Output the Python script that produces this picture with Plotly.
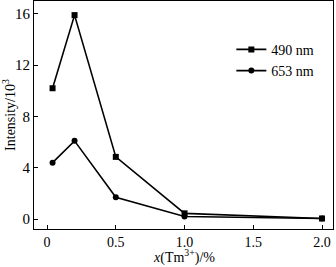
import plotly.graph_objects as go

x_vals = [0.04, 0.2, 0.5, 1.0, 2.0]
y_490 = [10.2, 15.9, 4.85, 0.45, 0.05]
y_653 = [4.4, 6.1, 1.7, 0.2, 0.05]
series_names = ["490 nm", "653 nm"]
x_ticks = [0, 0.5, 1.0, 1.5, 2.0]
x_tick_text = ["0", "0.5", "1.0", "1.5", "2.0"]
y_ticks = [0, 4, 8, 12, 16]

font = "Liberation Serif, Times New Roman, serif"
fig = go.Figure()
fig.add_trace(go.Scatter(x=x_vals, y=y_490, mode="lines+markers", name=series_names[0],
                         line=dict(color="black", width=1.6),
                         marker=dict(symbol="square", size=6, color="black")))
fig.add_trace(go.Scatter(x=x_vals, y=y_653, mode="lines+markers", name=series_names[1],
                         line=dict(color="black", width=1.6),
                         marker=dict(symbol="circle", size=6, color="black")))
fig.update_layout(
    width=336, height=267,
    margin=dict(l=34, r=3, t=1, b=38),
    paper_bgcolor="white", plot_bgcolor="white",
    font=dict(family=font, size=15, color="black"),
    showlegend=True,
    legend=dict(x=0.66, y=0.74, xanchor="left", yanchor="middle",
                bgcolor="rgba(0,0,0,0)", font=dict(size=14, family=font),
                itemwidth=30, tracegroupgap=0),
    annotations=[dict(text="<i>x</i>(Tm<sup>3+</sup>)/%", xref="paper", yref="paper",
                      x=0.5, y=-0.122, xanchor="center", yanchor="middle",
                      showarrow=False, font=dict(size=14, family=font))],
)
fig.update_xaxes(range=[-0.095, 2.08], tickvals=x_ticks, ticktext=x_tick_text,
                 ticks="inside", ticklen=4, tickwidth=1, tickcolor="black",
                 tickfont=dict(size=14), automargin=False,
                 showline=True, linecolor="black", linewidth=1, mirror=True,
                 showgrid=False, zeroline=False)
fig.update_yaxes(range=[-0.77, 17.0], tickvals=y_ticks,
                 ticks="inside", ticklen=4, tickwidth=1, tickcolor="black",
                 tickfont=dict(size=15), automargin=False,
                 showline=True, linecolor="black", linewidth=1, mirror=True,
                 showgrid=False, zeroline=False,
                 title=dict(text="Intensity/10<sup>3</sup>", standoff=2, font=dict(size=14)))
fig.write_html("out.html")
